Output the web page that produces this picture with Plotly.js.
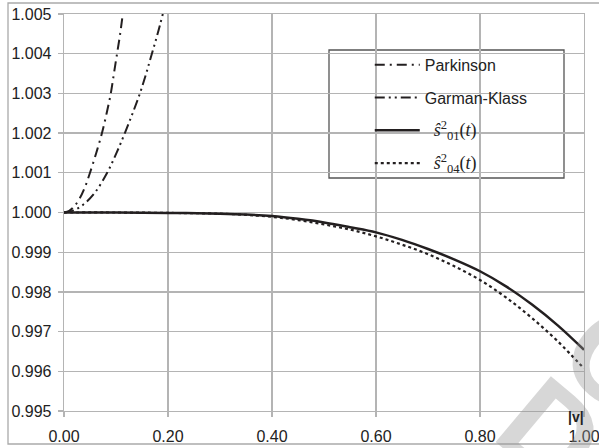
<!DOCTYPE html>
<html>
<head>
<meta charset="utf-8">
<script src="https://cdn.plot.ly/plotly-3.0.1.min.js"></script>
<style>html,body{margin:0;padding:0;background:#fff;}#chart{width:599px;height:448px;}</style>
</head>
<body>
<div id="chart"></div>
<script>
// ---- data ----
const parkX = [0, 0.01, 0.02, 0.03, 0.04, 0.05, 0.062, 0.073, 0.082, 0.09, 0.096, 0.102, 0.108, 0.113];
const parkY = [1.0, 1.00004, 1.00016, 1.00035, 1.00063, 1.001, 1.0015, 1.002, 1.0025, 1.003, 1.0035, 1.004, 1.0045, 1.005];
const gkX = [0, 0.02, 0.04, 0.06, 0.083, 0.101, 0.117, 0.132, 0.146, 0.158, 0.169, 0.18, 0.19];
const gkY = [1.0, 1.00006, 1.00023, 1.00051, 1.001, 1.0015, 1.002, 1.0025, 1.003, 1.0035, 1.004, 1.0045, 1.005];
const vX = [0, 0.1, 0.2, 0.3, 0.35, 0.4, 0.45, 0.5, 0.55, 0.6, 0.65, 0.7, 0.75, 0.8, 0.85, 0.9, 0.95, 1.0];
const s01 = [1.0, 1.0, 0.99999, 0.99997, 0.99995, 0.99991, 0.99984, 0.99975, 0.99963, 0.99950, 0.99931, 0.99908, 0.99882, 0.99852, 0.99814, 0.99768, 0.99715, 0.99654];
const s04 = [1.0, 1.0, 0.99999, 0.99997, 0.99994, 0.99989, 0.99981, 0.99970, 0.99957, 0.99940, 0.99919, 0.99895, 0.99865, 0.99830, 0.99786, 0.99734, 0.99675, 0.99607];
const xTicks = [0, 0.2, 0.4, 0.6, 0.8, 1.0];
const yTicks = [0.995, 0.996, 0.997, 0.998, 0.999, 1.000, 1.001, 1.002, 1.003, 1.004, 1.005];
const mathStyle = 'font-family:\'Liberation Serif\',serif;font-size:18px';
const names = ['Parkinson', 'Garman-Klass',
  '\u00a0\u00a0<span style="' + mathStyle + '"><i>ŝ</i><sup>2</sup><sub>01</sub>(<i>t</i>)</span>',
  '\u00a0\u00a0<span style="' + mathStyle + '"><i>ŝ</i><sup>2</sup><sub>04</sub>(<i>t</i>)</span>'];

const ink = '#231f20';
const traces = [
  {x: parkX, y: parkY, name: names[0], legendgroup: 'a', mode: 'lines', line: {color: ink, width: 2, dash: '10px,5px,2px,5px', shape: 'spline', smoothing: 1}},
  {x: gkX, y: gkY, name: names[1], legendgroup: 'b', mode: 'lines', line: {color: ink, width: 2, dash: '10px,4px,2px,4px,2px,4px', shape: 'spline', smoothing: 1}},
  {x: vX, y: s01, name: names[2], legendgroup: 'c', mode: 'lines', line: {color: ink, width: 2.5, shape: 'spline', smoothing: 1}},
  {x: vX, y: s04, name: names[3], legendgroup: 'd', mode: 'lines', line: {color: ink, width: 2.2, dash: 'dot', shape: 'spline', smoothing: 1}}
];

const gridC = '#b4b4b4';
const wm = 'rgba(150,150,150,0.38)';
const layout = {
  width: 599, height: 448,
  margin: {l: 64, r: 15, t: 14, b: 37, pad: 0},
  paper_bgcolor: '#fff', plot_bgcolor: '#fff',
  font: {family: 'Liberation Sans, Arial, sans-serif', size: 15, color: '#222'},
  showlegend: true,
  legend: {
    x: 0.588, y: 0.915, xanchor: 'left', yanchor: 'top',
    bgcolor: 'rgba(0,0,0,0)', borderwidth: 0,
    traceorder: 'grouped', tracegroupgap: 9, itemwidth: 45,
    font: {size: 16, color: '#222'}
  },
  xaxis: {
    range: [0, 1], tickvals: xTicks, ticktext: xTicks.map(v => v.toFixed(2)),
    showgrid: true, gridcolor: gridC, gridwidth: 1.3,
    showline: true, linecolor: gridC, linewidth: 1.3, mirror: true,
    ticks: 'outside', ticklen: 5, tickcolor: gridC, tickwidth: 1.3,
    ticklabelstandoff: 5, zeroline: false, ticklabeloverflow: 'allow',
    tickfont: {size: 16}
  },
  yaxis: {
    range: [0.995, 1.005], tickvals: yTicks, ticktext: yTicks.map(v => v.toFixed(3)),
    showgrid: true, gridcolor: gridC, gridwidth: 1.3,
    showline: true, linecolor: gridC, linewidth: 1.3, mirror: true,
    ticks: 'outside', ticklen: 5, tickcolor: gridC, tickwidth: 1.3,
    ticklabelstandoff: 3, zeroline: false, ticklabeloverflow: 'allow',
    tickfont: {size: 16}
  },
  shapes: [
    {type: 'rect', xref: 'paper', yref: 'paper', x0: (329-64)/520, x1: (564-64)/520, y0: (411-178)/397, y1: (411-50)/397,
     line: {color: '#555', width: 1.3}, fillcolor: 'rgba(0,0,0,0)', layer: 'below'},
    {type: 'rect', xref: 'paper', yref: 'paper', x0: (8-64)/520, x1: (610-64)/520, y0: (411-444)/397, y1: (411-3)/397,
     line: {color: '#aaa', width: 1.3}, fillcolor: 'rgba(0,0,0,0)', layer: 'below'}
  ],
  annotations: [
    {text: '<b>D</b>', xref: 'paper', yref: 'paper', x: (552-64)/520, y: (411-432)/397, showarrow: false,
     font: {size: 125, color: wm, family: 'Liberation Sans'}, textangle: 40, xanchor: 'center', yanchor: 'middle'},
    {text: '<b>O</b>', xref: 'paper', yref: 'paper', x: (618-64)/520, y: (411-360)/397, showarrow: false,
     font: {size: 125, color: wm, family: 'Liberation Sans'}, textangle: 40, xanchor: 'center', yanchor: 'middle'},
    {text: '<b>|v|</b>', xref: 'paper', yref: 'paper', x: (576-64)/520, y: (411-417)/397, showarrow: false,
     font: {size: 14, color: '#222'}, xanchor: 'center', yanchor: 'middle'}
  ]
};
Plotly.newPlot('chart', traces, layout, {displayModeBar: false, staticPlot: true});
</script>
</body>
</html>
